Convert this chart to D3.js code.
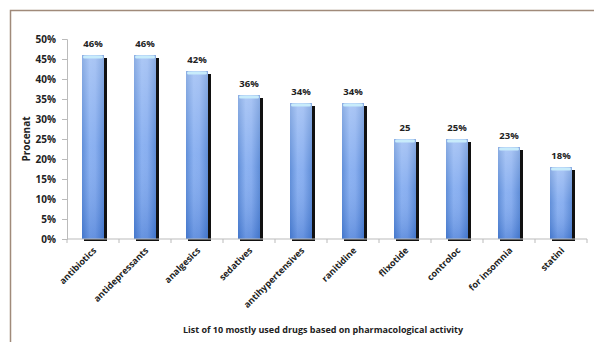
<!DOCTYPE html>
<html><head><meta charset="utf-8">
<script src="https://cdn.jsdelivr.net/npm/d3@7"></script>
<style>body{margin:0;background:#fff}svg{display:block}text{font-family:"Open Sans",sans-serif;font-weight:bold;fill:#222}</style>
</head><body>
<script>
const categories = ["antibiotics","antidepressants","analgesics","sedatives","antihypertensives","ranitidine","flixotide","controloc","for insomnia","statini"];
const values = [46,46,42,36,34,34,25,25,23,18];
const valueLabels = ["46%","46%","42%","36%","34%","34%","25","25%","23%","18%"];
const yTicks = [0,5,10,15,20,25,30,35,40,45,50];
const yTitle = "Procenat";
const xTitle = "List of 10 mostly used drugs based on pharmacological activity";

const W=594,H=342;
const svg=d3.select("body").append("svg").attr("width",W).attr("height",H);
const defs=svg.append("defs");
const gh=defs.append("linearGradient").attr("id","gh").attr("x1",0).attr("x2",1).attr("y1",0).attr("y2",0);
[[0,"#4f82d4"],[0.35,"#80aaf0"],[0.6,"#7ca6ee"],[1,"#4d80d2"]].forEach(s=>gh.append("stop").attr("offset",s[0]).attr("stop-color",s[1]));
const gv=defs.append("linearGradient").attr("id","gv").attr("x1",0).attr("x2",0).attr("y1",0).attr("y2",1);
[[0,"#ffffff",0.35],[0.5,"#ffffff",0.1],[1,"#1a4fb0",0.25]].forEach(s=>gv.append("stop").attr("offset",s[0]).attr("stop-color",s[1]).attr("stop-opacity",s[2]));

// border
svg.append("path").attr("d",`M${W},10.5H10.5V${H}`).attr("fill","none").attr("stroke","#a08a7a").attr("stroke-width",1.5);

const x=d3.scaleBand().domain(categories).range([67,587]);
const y=d3.scaleLinear().domain([0,50]).range([239,39]);
const bw=22;

// shadows
svg.append("g").selectAll("rect").data(categories).join("rect")
 .attr("x",d=>x(d)+x.bandwidth()/2-bw/2+3).attr("y",(d,i)=>y(values[i])+3)
 .attr("width",bw).attr("height",(d,i)=>y(0)-y(values[i])-1).attr("fill","#111");
// bars
const bars=svg.append("g");
bars.selectAll("rect.b").data(categories).join("rect").attr("class","b")
 .attr("x",d=>x(d)+x.bandwidth()/2-bw/2).attr("y",(d,i)=>y(values[i]))
 .attr("width",bw).attr("height",(d,i)=>y(0)-y(values[i])).attr("fill","url(#gh)");
bars.selectAll("rect.v").data(categories).join("rect").attr("class","v")
 .attr("x",d=>x(d)+x.bandwidth()/2-bw/2).attr("y",(d,i)=>y(values[i]))
 .attr("width",bw).attr("height",(d,i)=>y(0)-y(values[i])).attr("fill","url(#gv)");
bars.selectAll("rect.c").data(categories).join("rect").attr("class","c")
 .attr("x",d=>x(d)+x.bandwidth()/2-bw/2+1).attr("y",(d,i)=>y(values[i])+0.5)
 .attr("width",bw-2).attr("height",3).attr("rx",1.5).attr("fill","#c8ecfb");
// shadow bottom lip
svg.append("g").selectAll("rect").data(categories).join("rect")
 .attr("x",d=>x(d)+x.bandwidth()/2-bw/2+2).attr("y",y(0))
 .attr("width",bw+1).attr("height",2).attr("fill","#111");

// axes
const ya=svg.append("g").attr("transform","translate(67,0)")
 .call(d3.axisLeft(y).tickValues(yTicks).tickFormat(d=>d+"%").tickSize(5).tickPadding(6));
ya.select(".domain").attr("stroke","#bbb");
ya.selectAll(".tick line").attr("stroke","#bbb");
ya.selectAll("text").attr("font-size",10).attr("font-family","Open Sans").attr("fill","#222");

const xa=svg.append("g").attr("transform","translate(0,239)");
xa.append("line").attr("x1",67).attr("x2",587).attr("stroke","#bbb");
xa.selectAll("line.t").data(d3.range(categories.length+1)).join("line").attr("class","t")
 .attr("x1",i=>67+i*x.step()).attr("x2",i=>67+i*x.step()).attr("y1",0).attr("y2",4).attr("stroke","#bbb");
xa.selectAll("text").data(categories).join("text")
 .attr("transform",d=>`translate(${x(d)+x.bandwidth()/2+4},${12}) rotate(-45)`)
 .attr("text-anchor","end").attr("font-size",9).text(d=>d);

// value labels
svg.append("g").selectAll("text").data(categories).join("text")
 .attr("x",d=>x(d)+x.bandwidth()/2).attr("y",(d,i)=>y(values[i])-8)
 .attr("text-anchor","middle").attr("font-size",9.5).text((d,i)=>valueLabels[i]);

svg.append("text").attr("transform","translate(30,139) rotate(-90)").attr("text-anchor","middle").attr("font-size",10).text(yTitle);
svg.append("text").attr("x",323).attr("y",333).attr("text-anchor","middle").attr("font-size",9).text(xTitle);
</script>
</body></html>
